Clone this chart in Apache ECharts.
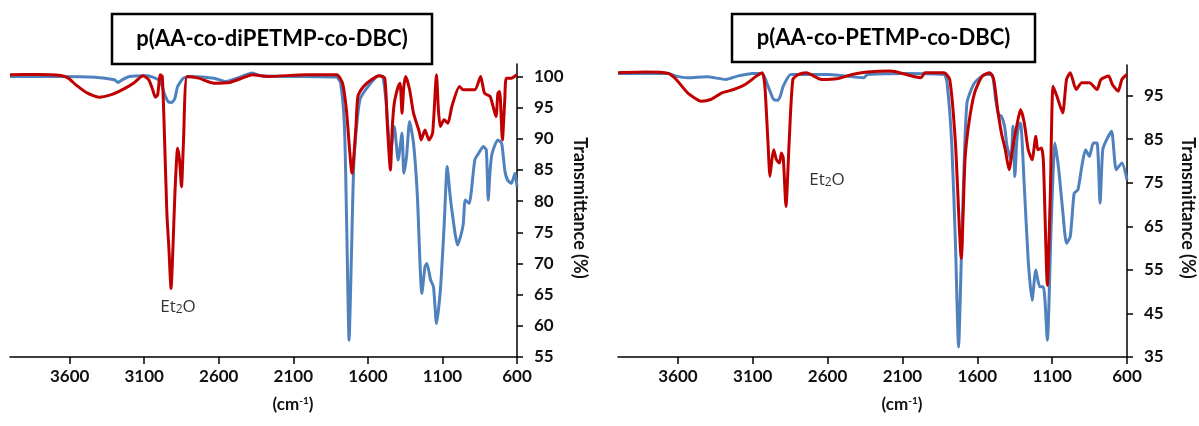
<!DOCTYPE html>
<html>
<head>
<meta charset="utf-8">
<script src="https://cdn.jsdelivr.net/npm/echarts@6/dist/echarts.min.js"></script>
<style>
html,body{margin:0;padding:0;background:#fff;}
#main{width:1199px;height:426px;}
</style>
</head>
<body>
<div id="main"></div>
<script>
// ---------- data (wavenumber cm-1, transmittance %) ----------
const xTicks = [3600, 3100, 2600, 2100, 1600, 1100, 600];
const leftYTicks = [55, 60, 65, 70, 75, 80, 85, 90, 95, 100];
const rightYTicks = [35, 45, 55, 65, 75, 85, 95];
const leftTitle = 'p(AA-co-diPETMP-co-DBC)';
const rightTitle = 'p(AA-co-PETMP-co-DBC)';

const leftRedX = [4000,3815,3660,3609,3558,3480,3403,3326,3249,3172,3108,3069,3043,3025,3010,2992,2979,2966,2948,2935,2920,2907,2894,2876,2863,2850,2837,2812,2735,2632,2529,2426,2375,2272,2014,1809,1770,1744,1706,1680,1667,1629,1577,1526,1487,1469,1449,1436,1423,1397,1384,1371,1359,1346,1320,1294,1256,1243,1217,1191,1166,1140,1127,1114,1089,1063,1037,986,960,883,844,818,780,741,728,716,698,682,672,638,600];
const leftRedY = [100.27,100.32,100.16,99.73,98.66,97.32,96.68,97.05,97.86,98.93,100.11,99.46,97.86,96.68,97.05,100.27,100,91.96,78.04,72.68,65.98,72.68,81.25,88.48,86.61,82.32,89.29,100,99.73,98.93,99.04,99.89,100.27,100,100.27,100.27,98.93,94.64,84.46,91.96,96.79,98.39,99.46,100.11,99.73,91.96,85.0,91.96,95.71,98.39,98.93,94.11,98.39,100,97.86,94.11,91.16,89.82,91.43,89.82,90.89,100.27,94.64,91.96,93.04,92.5,95.18,98.39,97.86,97.86,100,97.32,96.79,93.57,97.32,97.59,89.82,96.25,99.73,99.73,100.27];

const leftBlueX = [4000,3686,3429,3300,3275,3249,3198,3095,3043,2992,2966,2940,2915,2894,2876,2837,2786,2632,2555,2477,2375,2323,2143,1809,1783,1757,1742,1726,1711,1693,1654,1590,1526,1500,1479,1469,1449,1423,1397,1371,1359,1341,1320,1294,1269,1238,1217,1204,1179,1160,1140,1114,1089,1068,1050,1037,998,973,960,947,921,883,857,826,806,793,780,767,728,703,682,664,638,613,600];
const leftBlueY = [100,100,99.89,99.46,99.04,99.46,100,100.11,99.89,99.2,97.32,95.98,95.82,96.52,98.39,99.73,100,99.73,99.2,99.73,100.54,100.11,100,99.89,98.93,91.96,75.89,57.68,70.54,86.61,96.25,98.66,100.11,100,96.25,93.04,87.68,91.96,86.61,90.89,84.46,87.14,92.77,89.29,81.25,65.18,69.46,70.0,67.32,66.25,60.36,65.71,75.89,85.54,81.25,78.57,72.95,74.82,76.43,80.18,79.64,86.61,87.68,88.75,88.21,80.18,85.0,87.68,89.82,89.29,85.0,83.39,82.86,84.46,82.32];

const rightRedX = [4000,3816,3663,3611,3535,3445,3381,3305,3228,3151,3075,3036,3019,2998,2985,2972,2960,2942,2921,2909,2896,2878,2857,2832,2794,2742,2640,2538,2436,2334,2180,1976,1950,1822,1784,1746,1707,1682,1656,1618,1567,1516,1490,1464,1439,1413,1388,1362,1337,1311,1286,1260,1234,1209,1196,1171,1158,1132,1112,1094,1068,1030,1004,979,940,902,851,800,774,723,698,659,634,600];
const rightRedY = [100.22,100.37,100.06,98.68,95.61,93.70,94.08,95.61,96.38,97.53,99.45,100.22,97.15,84.10,76.43,80.27,82.57,80.27,79.50,81.80,80.65,69.53,84.10,98.68,99.83,100.22,98.68,98.84,99.83,100.37,100.6,99.07,100.22,100.22,98.68,84.10,57.63,80.27,88.71,95.61,99.45,100.22,98.68,91.78,86.41,82.57,77.97,83.34,87.94,91.78,88.71,82.57,80.27,85.64,82.57,82.95,79.50,51.49,72.59,97.15,94.85,91.01,98.68,100.22,96.38,97.92,97.92,96.38,98.68,99.45,97.53,96.0,98.68,99.83];

const rightBlueX = [4000,3663,3611,3535,3407,3279,3203,3100,3036,2998,2972,2960,2934,2916,2896,2845,2589,2359,2334,2078,1822,1802,1771,1746,1725,1707,1694,1669,1618,1541,1503,1477,1459,1439,1418,1401,1375,1362,1349,1337,1324,1311,1286,1260,1234,1209,1183,1158,1132,1107,1081,1056,1030,1004,979,953,928,902,877,851,825,800,780,762,736,703,672,634,600];
const rightBlueY = [100.06,100.06,99.45,99.07,99.30,98.68,99.45,100.06,100.06,97.15,94.85,94.08,93.93,94.85,97.15,99.83,99.83,99.07,99.83,100.06,99.83,97.92,84.10,61.09,37.30,57.25,72.59,93.31,97.92,99.83,99.83,94.08,90.63,90.24,87.94,83.34,80.27,87.94,76.43,84.10,87.94,88.71,74.13,57.25,48.04,54.95,51.11,51.11,38.83,64.92,84.10,77.97,68.76,61.09,62.62,72.59,73.36,78.73,82.57,81.03,84.10,84.10,70.29,82.57,84.87,86.79,77.97,79.50,75.66];

// ---------- helpers ----------
const zip = (xs, ys) => xs.map((x, i) => [x, ys[i]]);
const RED = '#C00000';
const BLUE = '#4F81BD';
const FONT = 'Lato';

function xAxisCfg(gi) {
  return {
    type: 'value', gridIndex: gi, min: 600, max: 4000, inverse: true,
    axisLine: { onZero: false, lineStyle: { color: '#000', width: 1.5 } },
    axisTick: { customValues: xTicks, length: 7, lineStyle: { color: '#000', width: 1.5 } },
    axisLabel: { customValues: xTicks, formatter: v => String(v), fontFamily: FONT, fontWeight: 'bold', fontSize: 17, color: '#111', margin: 11 },
    splitLine: { show: false }
  };
}
function yAxisCfg(gi, min, ticks) {
  return {
    type: 'value', gridIndex: gi, position: 'right', min: min, max: 102,
    axisLine: { show: true, onZero: false, lineStyle: { color: '#000', width: 1.5 } },
    axisTick: { show: true, customValues: ticks, length: 6, lineStyle: { color: '#000', width: 1.5 } },
    axisLabel: { customValues: ticks, formatter: v => String(v), fontFamily: FONT, fontWeight: 'bold', fontSize: 17, color: '#111', margin: 17 },
    splitLine: { show: false }
  };
}
function lineSeries(gi, color, data) {
  return {
    type: 'line', xAxisIndex: gi, yAxisIndex: gi, data: data,
    showSymbol: false, symbol: 'none', smooth: 0.2,
    lineStyle: { color: color, width: 3 }, silent: true, animation: false
  };
}
function titleBox(x1, x2, y1, y2, text) {
  return [
    { type: 'rect', shape: { x: x1, y: y1, width: x2 - x1, height: y2 - y1 },
      style: { fill: '#fff', stroke: '#000', lineWidth: 2.5 }, z: 10 },
    { type: 'text', x: (x1 + x2) / 2, y: (y1 + y2) / 2, z: 11,
      style: { text: text, font: 'bold 22px ' + FONT, fill: '#000', align: 'center', verticalAlign: 'middle' } }
  ];
}
function yName(x, y) {
  return { type: 'text', x: x, y: y, rotation: -Math.PI / 2, z: 11,
    style: { text: 'Transmittance (%)', font: 'bold 18px ' + FONT, fill: '#111', align: 'center', verticalAlign: 'middle' } };
}
function xName(x, y) {
  return { type: 'text', x: x, y: y, z: 11,
    style: { text: '(cm{sup|-1})', font: 'bold 17px ' + FONT, fill: '#111', align: 'center', verticalAlign: 'middle',
      rich: { sup: { font: 'bold 10px ' + FONT, fill: '#111', verticalAlign: 'top', padding: [0, 0, 8, 0] } } } };
}
function et2o(x, y) {
  return { type: 'text', x: x, y: y, z: 11,
    style: { text: 'Et{sub|2}O', font: '17px "Open Sans"', fill: '#333', align: 'center', verticalAlign: 'middle',
      rich: { sub: { font: '12px "Open Sans"', fill: '#333', padding: [6, 0, 0, 0] } } } };
}

const chart = echarts.init(document.getElementById('main'), null, { renderer: 'canvas' });
chart.setOption({
  animation: false,
  backgroundColor: '#fff',
  grid: [
    { left: 10, right: 682, top: 64, bottom: 69 },
    { left: 618, right: 72, top: 65, bottom: 69 }
  ],
  xAxis: [xAxisCfg(0), xAxisCfg(1)],
  yAxis: [yAxisCfg(0, 55, leftYTicks), yAxisCfg(1, 35, rightYTicks)],
  series: [
    lineSeries(0, BLUE, zip(leftBlueX, leftBlueY)),
    lineSeries(0, RED, zip(leftRedX, leftRedY)),
    lineSeries(1, BLUE, zip(rightBlueX, rightBlueY)),
    lineSeries(1, RED, zip(rightRedX, rightRedY))
  ],
  graphic: [
    ...titleBox(112, 432, 14, 64, leftTitle),
    ...titleBox(732, 1035, 14, 62, rightTitle),
    yName(580, 208),
    yName(1188, 208),
    xName(293, 405),
    xName(902, 405),
    et2o(178, 307),
    et2o(827, 180)
  ]
});
</script>
</body>
</html>
